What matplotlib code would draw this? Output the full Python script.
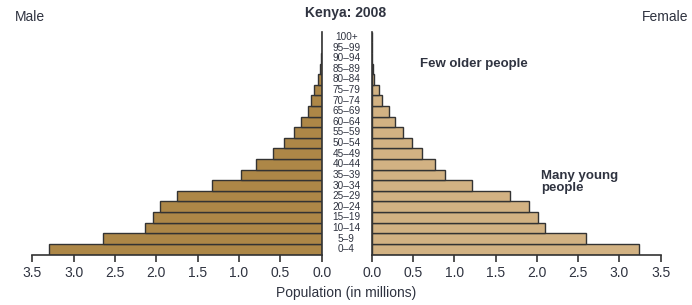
import matplotlib
matplotlib.use("Agg")
import matplotlib.pyplot as plt
from matplotlib.transforms import blended_transform_factory

# data (millions)
ages = ["0–4", "5–9", "10–14", "15–19", "20–24", "25–29", "30–34", "35–39",
        "40–44", "45–49", "50–54", "55–59", "60–64", "65–69", "70–74",
        "75–79", "80–84", "85–89", "90–94", "95–99", "100+"]
male = [3.30, 2.64, 2.14, 2.04, 1.96, 1.75, 1.33, 0.98, 0.79, 0.59, 0.46,
        0.34, 0.25, 0.17, 0.13, 0.09, 0.04, 0.015, 0.005, 0.0, 0.0]
female = [3.24, 2.60, 2.10, 2.01, 1.91, 1.68, 1.22, 0.89, 0.77, 0.61, 0.49,
          0.38, 0.28, 0.21, 0.13, 0.09, 0.03, 0.015, 0.005, 0.0, 0.0]
xticks = [0.0, 0.5, 1.0, 1.5, 2.0, 2.5, 3.0, 3.5]

plain = "Liberation Sans"
txt = "#2f3340"

W, H = 692, 305
fig = plt.figure(figsize=(W / 100, H / 100), dpi=100)
ax_bottom = 1 - 254.5 / H
ax_h = (254.5 - 31.7) / H
axL = fig.add_axes([32.3 / W, ax_bottom, 289.4 / W, ax_h])
axR = fig.add_axes([371.7 / W, ax_bottom, 289.0 / W, ax_h])

y = list(range(len(ages)))
axL.barh(y, male, height=1.0, color="#ad8747", edgecolor="#333333", linewidth=1.0)
axR.barh(y, female, height=1.0, color="#d2b283", edgecolor="#333333", linewidth=1.0)

axL.set_xlim(3.5, 0)
axR.set_xlim(0, 3.5)
for ax in (axL, axR):
    ax.set_ylim(-0.5, len(ages) - 0.5)
    ax.set_yticks([])
    ax.set_xticks(xticks)
    ax.set_xticklabels([f"{t:.1f}" for t in xticks], fontsize=10, color=txt,
                       family=plain)
    ax.tick_params(axis="x", direction="out", length=5, width=1.2, color="#333333", pad=3)
    ax.spines["top"].set_visible(False)
    for s in ax.spines.values():
        s.set_linewidth(1.2)
        s.set_color("#333333")
axL.spines["left"].set_visible(False)
axR.spines["right"].set_visible(False)

# age labels in the middle
tr = blended_transform_factory(fig.transFigure, axL.transData)
for i, a in enumerate(ages):
    fig.text(346.5 / W, i, a, transform=tr, ha="center", va="center",
             fontsize=7.2, color=txt, family=plain)

fig.text(346 / W, 1 - 13 / H, "Kenya: 2008", ha="center", va="center",
         fontsize=10, fontweight="bold", color=txt, family=plain)
fig.text(15 / W, 1 - 17 / H, "Male", ha="left", va="center", fontsize=10,
         color=txt, family=plain)
fig.text(688 / W, 1 - 17 / H, "Female", ha="right", va="center", fontsize=10,
         color=txt, family=plain)
fig.text(420 / W, 1 - 64 / H, "Few older people", ha="left", va="center",
         fontsize=9.5, fontweight="bold", color=txt, family=plain)
fig.text(541 / W, 1 - 182 / H, "Many young\npeople", ha="left", va="center",
         fontsize=9.5, fontweight="bold", color=txt, family=plain, linespacing=1.0)
fig.text(346 / W, 1 - 293 / H, "Population (in millions)", ha="center",
         va="center", fontsize=10, color=txt, family=plain)

fig.savefig("out.png", dpi=100)
